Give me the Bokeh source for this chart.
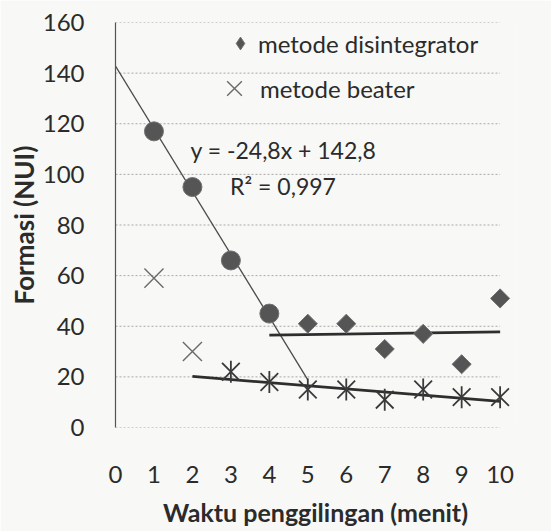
import math
from bokeh.plotting import figure
from bokeh.models import Range1d, Legend, LegendItem, Label, FixedTicker
from bokeh.embed import file_html
from bokeh.resources import INLINE

# ---- data ----
x_ticks = [0, 1, 2, 3, 4, 5, 6, 7, 8, 9, 10]
y_ticks = [0, 20, 40, 60, 80, 100, 120, 140, 160]

disint_x_early = [1, 2, 3, 4]
disint_y_early = [117, 95, 66, 45]
disint_x_late = [5, 6, 7, 8, 9, 10]
disint_y_late = [41, 41, 31, 37, 25, 51]

beater_cross_x = [1, 2]
beater_cross_y = [59, 30]
beater_star_x = [3, 4, 5, 6, 7, 8, 9, 10]
beater_star_y = [22, 18, 15, 15, 11, 15, 12, 12]

fit_slope = -24.8
fit_intercept = 142.8
fit_x = [0, 5]
fit_y = [fit_intercept + fit_slope * v for v in fit_x]

disint_trend_x = [4, 10]
disint_trend_y = [36.5, 37.8]
beater_trend_x = [2, 10]
beater_trend_y = [20.2, 10.3]

FONT = "Lato"
BG = "#f8f8f6"
TXT = "#2b2b2b"
FS = "24px"

p = figure(width=551, height=531, output_backend="svg", toolbar_location=None,
           x_range=Range1d(0, 10.4), y_range=Range1d(0, 160),
           min_border_left=115, min_border_right=36, min_border_top=22, min_border_bottom=104)
p.background_fill_color = BG
p.border_fill_color = BG
p.outline_line_color = None
p.xgrid.visible = False
p.ygrid.visible = False

# gridlines (dotted, only across 0..10)
p.segment(x0=[0] * len(y_ticks), x1=[10] * len(y_ticks), y0=y_ticks, y1=y_ticks,
          line_color="#a8a8a8", line_width=1, line_dash="2 2")

# axes
p.xaxis.ticker = FixedTicker(ticks=x_ticks)
p.yaxis.ticker = FixedTicker(ticks=y_ticks)
for ax in (p.xaxis[0], p.yaxis[0]):
    ax.major_tick_line_color = None
    ax.minor_tick_line_color = None
    ax.major_label_text_font = FONT
    ax.major_label_text_font_size = FS
    ax.major_label_text_color = TXT
    ax.axis_label_text_font = FONT
    ax.axis_label_text_font_style = "bold"
    ax.axis_label_text_color = TXT
p.xaxis.axis_line_color = None
p.yaxis.axis_line_color = "#555555"
p.yaxis.axis_line_width = 1.2
p.xaxis.major_label_standoff = 32
p.yaxis.major_label_standoff = 25
p.xaxis.axis_label = "Waktu penggilingan (menit)"
p.xaxis.axis_label_standoff = 11
p.xaxis.axis_label_text_font_size = "25px"
p.yaxis.axis_label = "Formasi (NUI)"
p.yaxis.axis_label_standoff = 0
p.yaxis.axis_label_text_font_size = "26px"

# trend lines
p.line(fit_x, fit_y, line_color="#4a4a4a", line_width=1.3)
p.line(disint_trend_x, disint_trend_y, line_color="#2e2e2e", line_width=2.8)
p.line(beater_trend_x, beater_trend_y, line_color="#2e2e2e", line_width=2.8)

# disintegrator markers
p.scatter(disint_x_early, disint_y_early, marker="circle", size=19,
          fill_color="#555555", line_color="#707070", line_width=1)
p.scatter(disint_x_late, disint_y_late, marker="square", angle=math.pi / 4, size=13.5,
          fill_color="#555555", line_color="#707070", line_width=1)
# hidden twin used only for the legend symbol
r_dis_leg = p.scatter(disint_x_late, disint_y_late, marker="diamond", size=13,
                      fill_color="#555555", line_color="#707070", line_width=1,
                      visible=False)

# beater markers
r_beat = p.scatter(beater_cross_x, beater_cross_y, marker="x", size=27,
                   line_color="#6a6a6a", line_width=1.4)
p.scatter(beater_star_x, beater_star_y, marker="x", size=25,
          line_color="#3a3a3a", line_width=1.8)
p.scatter(beater_star_x, beater_star_y, marker="dash", angle=math.pi / 2, size=22,
          line_color="#3a3a3a", line_width=1.8)

leg1 = Legend(items=[LegendItem(label="metode disintegrator", renderers=[r_dis_leg])],
              location=(109, 368), background_fill_alpha=0, border_line_color=None,
              label_text_font=FONT, label_text_font_size=FS, label_text_color=TXT,
              glyph_width=32, glyph_height=32, label_height=30, spacing=0,
              label_standoff=2, padding=0, margin=0)
leg2 = Legend(items=[LegendItem(label="metode beater", renderers=[r_beat])],
              location=(93, 313), background_fill_alpha=0, border_line_color=None,
              label_text_font=FONT, label_text_font_size=FS, label_text_color=TXT,
              glyph_width=52, glyph_height=52, label_height=30, spacing=0,
              label_standoff=0, padding=0, margin=0)
p.add_layout(leg1)
p.add_layout(leg2)

p.add_layout(Label(x=1.95, y=109.5, text="y = -24,8x + 142,8", text_font=FONT,
                   text_font_size="23px", text_color=TXT, text_baseline="middle"))
p.add_layout(Label(x=2.98, y=95.5, text="R² = 0,997", text_font=FONT,
                   text_font_size="23px", text_color=TXT, text_baseline="middle"))

open("out.html", "w").write(file_html(p, INLINE))
